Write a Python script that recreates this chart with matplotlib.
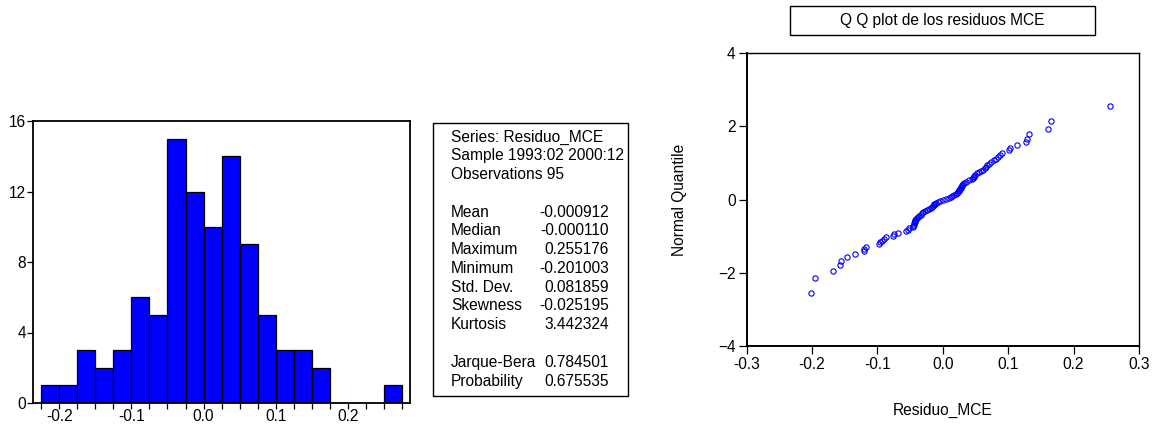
import numpy as np
import matplotlib.pyplot as plt
from matplotlib.patches import Rectangle
from statistics import NormalDist

plt.rcParams['font.family'] = ['Liberation Sans', 'DejaVu Sans']

residuo_mce = [
    -0.201003, -0.196, -0.1675, -0.157, -0.156, -0.147, -0.135,
    -0.121, -0.120, -0.117,
    -0.097, -0.0964, -0.093, -0.0898, -0.0872, -0.077,
    -0.074, -0.069, -0.056, -0.054, -0.052,
    -0.046, -0.045, -0.044, -0.044, -0.043, -0.043, -0.042, -0.041, -0.040,
    -0.038, -0.036, -0.034, -0.032, -0.030, -0.027,
    -0.024, -0.021, -0.018, -0.016, -0.015, -0.014, -0.013, -0.012, -0.011,
    -0.008, -0.005, -0.00011,
    0.005, 0.010, 0.012, 0.014, 0.017, 0.020, 0.022, 0.023, 0.024, 0.0245,
    0.026, 0.027, 0.028, 0.029, 0.030, 0.031, 0.032, 0.036, 0.040, 0.044,
    0.046, 0.047, 0.048, 0.049,
    0.052, 0.056, 0.059, 0.062, 0.064, 0.066, 0.068, 0.071, 0.074,
    0.078, 0.082, 0.085, 0.087, 0.091,
    0.1015, 0.103, 0.113, 0.127, 0.128, 0.131, 0.161, 0.166, 0.255176,
]
bin_edges = np.arange(-0.225, 0.2751, 0.025)

stat_names = ['Mean', 'Median', 'Maximum', 'Minimum', 'Std. Dev.', 'Skewness', 'Kurtosis']
stat_vals = ['-0.000912', '-0.000110', '0.255176', '-0.201003', '0.081859', '-0.025195', '3.442324']
test_names = ['Jarque-Bera', 'Probability']
test_vals = ['0.784501', '0.675535']

FS = 11.2
fig = plt.figure(figsize=(11.52, 4.25), dpi=100)
W, H = 1152, 425


def fax(x0, y0, x1, y1):
    return fig.add_axes([x0 / W, 1 - y1 / H, (x1 - x0) / W, (y1 - y0) / H])


# ---- histogram
ax = fax(33, 121, 410, 403)
ax.hist(residuo_mce, bins=bin_edges, color='#0000ff', edgecolor='black', linewidth=0.9)
ax.set_xlim(-0.2362, 0.2858)
ax.set_ylim(0, 16)
ax.set_yticks([0, 4, 8, 12, 16])
ax.set_xticks([-0.2, -0.1, 0.0, 0.1, 0.2])
ax.set_xticklabels(['-0.2', '-0.1', '0.0', '0.1', '0.2'])
ax.set_xticks(bin_edges, minor=True)
ax.tick_params(axis='x', which='both', direction='out', length=4, width=0.9, pad=0, labelsize=FS)
ax.tick_params(axis='y', direction='out', length=4, width=0.9, pad=1, labelsize=FS)
for s in ax.spines.values():
    s.set_linewidth(1.3)

# ---- stats box
fig.patches.append(Rectangle((433 / W, 1 - 396 / H), (628 - 433) / W, (396 - 123) / H,
                             transform=fig.transFigure, fill=False, edgecolor='black', linewidth=1.0))
dy = 18.77
lines = ['Series: Residuo_MCE', 'Sample 1993:02 2000:12', 'Observations 95']
for i, t in enumerate(lines):
    fig.text(451 / W, 1 - (137 + i * dy) / H, t, fontsize=FS, va='center', ha='left')
for i, (n, v) in enumerate(zip(stat_names, stat_vals)):
    y = 1 - (137 + (4 + i) * dy) / H
    fig.text(451 / W, y, n, fontsize=FS, va='center', ha='left')
    fig.text(609 / W, y, v, fontsize=FS, va='center', ha='right')
for i, (n, v) in enumerate(zip(test_names, test_vals)):
    y = 1 - (137 + (12 + i) * dy) / H
    fig.text(451 / W, y, n, fontsize=FS, va='center', ha='left')
    fig.text(609 / W, y, v, fontsize=FS, va='center', ha='right')

# ---- QQ plot
n = len(residuo_mce)
xs = np.sort(residuo_mce)
qs = [NormalDist().inv_cdf((i + 0.5) / n) for i in range(n)]

ax2 = fax(746.7, 53.3, 1139, 346)
ax2.plot(xs, qs, 'o', mfc='none', mec='#0000ff', ms=3.8, mew=0.8)
ax2.set_xlim(-0.3, 0.3)
ax2.set_ylim(-4, 4)
ax2.set_xticks([-0.3, -0.2, -0.1, 0.0, 0.1, 0.2, 0.3])
ax2.set_xticklabels(['-0.3', '-0.2', '-0.1', '0.0', '0.1', '0.2', '0.3'])
ax2.set_yticks([-4, -2, 0, 2, 4])
ax2.tick_params(direction='out', length=6, width=0.9, labelsize=FS, pad=2)
for s in ax2.spines.values():
    s.set_linewidth(1.0)
ax2.spines['left'].set_linewidth(1.4)
ax2.spines['bottom'].set_linewidth(1.4)
ax2.set_xlabel('Residuo_MCE', fontsize=FS, labelpad=22)
ax2.set_ylabel('Normal Quantile', fontsize=FS, labelpad=22)

fig.patches.append(Rectangle((790 / W, 1 - 35 / H), (1095 - 790) / W, (35 - 6) / H,
                             transform=fig.transFigure, fill=False, edgecolor='black', linewidth=1.0))
fig.text(942.5 / W, 1 - 21 / H, 'Q Q plot de los residuos MCE', fontsize=FS, ha='center', va='center')

fig.savefig('out.png', dpi=100)
